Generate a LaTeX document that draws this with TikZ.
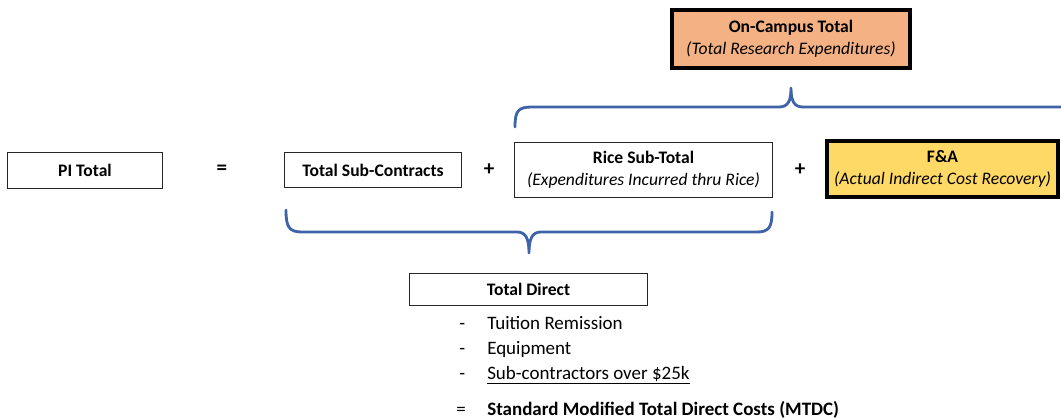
\documentclass[tikz,border=0pt]{standalone}
\usepackage{fontspec}
\setmainfont{Carlito}
\usetikzlibrary{calc}

\definecolor{bracecol}{HTML}{3F63A8}
\definecolor{campusfill}{HTML}{F4B183}
\definecolor{fafill}{HTML}{FFD966}

\tikzset{
  box/.style={draw=black!85, line width=0.7pt, fill=white, align=center, inner sep=0pt,
    font=\fontsize{12.5}{15.5}\selectfont},
  thickbox/.style={box, draw=black, line width=2.2pt},
  brace/.style={draw=bracecol, line width=2pt, line cap=round, line join=round},
  sign/.style={font=\fontsize{15}{17}\selectfont\bfseries},
  item/.style={anchor=base west, inner sep=0pt, font=\fontsize{13.5}{15}\selectfont},
}

\begin{document}
\begin{tikzpicture}[x=0.025cm, y=-0.025cm]
\useasboundingbox (0,0) rectangle (1061,420);

% Top row
\node[box, minimum width=3.85cm, minimum height=0.9cm] (pi) at (85,170) {\textbf{PI Total}};
\node[sign] (eq) at (222,170) {=};
\node[box, minimum width=4.4cm, minimum height=0.875cm] (sub) at (373,170) {\textbf{Total Sub-Contracts}};
\node[sign] (plusA) at (489,170) {+};
\node[box, minimum width=6.425cm, minimum height=1.375cm] (rice) at (643.5,169.5)
  {\textbf{Rice Sub-Total}\\\textit{(Expenditures Incurred thru Rice)}};
\node[sign] (plusB) at (800,170) {+};
\node[thickbox, fill=fafill, minimum width=5.775cm, minimum height=1.4cm] (fa) at (942.5,169)
  {\textbf{F\&A}\\\textit{(Actual Indirect Cost Recovery)}};

% On-campus total
\node[thickbox, fill=campusfill, minimum width=5.95cm, minimum height=1.45cm] (campus) at (791,39)
  {\textbf{On-Campus Total}\\\textit{(Total Research Expenditures)}};

% Braces
\draw[brace] (515,127) .. controls (515,111) and (518,107) .. (532,107) -- (779,107)
  .. controls (788,107) and (791,101) .. (791,88)
  .. controls (791,101) and (794,107) .. (803,107) -- (1061,107);
\draw[brace] (286,210) .. controls (286,227) and (289,232) .. (302,232) -- (517,232)
  .. controls (526,232) and (529,239) .. (529,253)
  .. controls (529,239) and (532,232) .. (541,232) -- (757,232)
  .. controls (769,232) and (772,227) .. (772,212);

% Total direct
\node[box, minimum width=5.925cm, minimum height=0.8cm] (direct) at (528.5,289) {\textbf{Total Direct}};

% Exclusions
\node[item] (d1) at (459,329) {-};
\node[item] (tuition) at (487,329) {Tuition Remission};
\node[item] (d2) at (459,354) {-};
\node[item] (equip) at (487,354) {Equipment};
\node[item] (d3) at (459,379) {-};
\node[item] (subk) at (487,379) {\underline{Sub-contractors over \$25k}};
\node[item] (d4) at (456,415) {=};
\node[item] (mtdc) at (487,415) {\textbf{Standard Modified Total Direct Costs (MTDC)}};
\end{tikzpicture}
\end{document}
